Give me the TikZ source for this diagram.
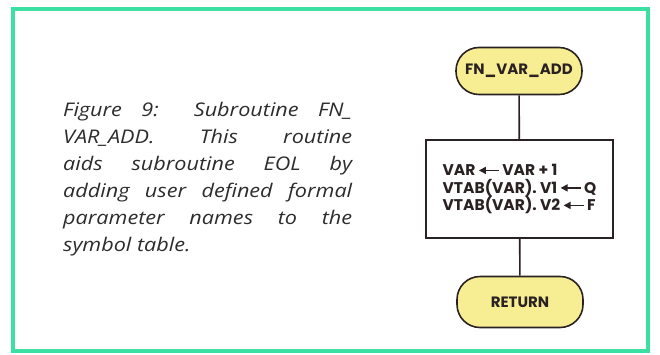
\documentclass[tikz,border=0pt]{standalone}
\usepackage{fontspec}
\usepackage{tikz}
\usetikzlibrary{arrows.meta}
\setmainfont{Open Sans}[FakeStretch=1.15]
\newfontfamily\flowfont{Poppins}
\definecolor{FrameGreen}{HTML}{3CE0A2}
\definecolor{FlowYellow}{HTML}{F7EE93}
\definecolor{FlowInk}{HTML}{2A2222}
\definecolor{CaptionInk}{HTML}{2C2C2C}
\newcommand{\asgnarrow}{\tikz[baseline=0pt]\draw[{Triangle[length=7pt,width=7pt]}-,line width=1.6pt,FlowInk] (0,0.33em) -- (1.3em,0.33em);}

\begin{document}
\begin{tikzpicture}[x=1pt,y=1pt,
  terminal/.style={draw=FlowInk,line width=1.6pt,fill=FlowYellow,rounded corners=23pt,
    minimum width=126pt,font=\flowfont\bfseries\fontsize{15}{17}\selectfont,text=FlowInk},
  procbox/.style={draw=FlowInk,line width=1.6pt,fill=white,minimum width=187pt,
    minimum height=98pt,align=left,font=\flowfont\bfseries\fontsize{15.5}{17.5}\selectfont,text=FlowInk},
  flowline/.style={draw=FlowInk,line width=1.6pt}]
  \useasboundingbox (0,0) rectangle (660,354);
  \draw[FrameGreen,line width=4pt] (13,3) rectangle (648,345);
  % caption text
  \node[anchor=north west,inner sep=0pt,text width=289pt,align=justify,text=CaptionInk,
    font=\itshape\fontsize{18.8}{27}\selectfont] (caption) at (63,252)
    {Figure 9: Subroutine FN\_\linebreak VAR\_ADD. This routine\linebreak aids subroutine EOL by\linebreak
     adding user defined formal\linebreak parameter names to the\linebreak symbol table.};
  % flowchart
  \node[terminal,minimum height=47pt] (start) at (519,283) {FN\_VAR\_ADD};
  \node[procbox] (body) at (519.5,165)
    {VAR\,\asgnarrow\,VAR + 1\\VTAB(VAR). V1\,\asgnarrow\,Q\\VTAB(VAR). V2\,\asgnarrow\,F};
  \node[terminal,minimum height=51pt] (ret) at (520,52) {RETURN};
  \draw[flowline] (start) -- (body);
  \draw[flowline] (body) -- (ret);
\end{tikzpicture}
\end{document}
